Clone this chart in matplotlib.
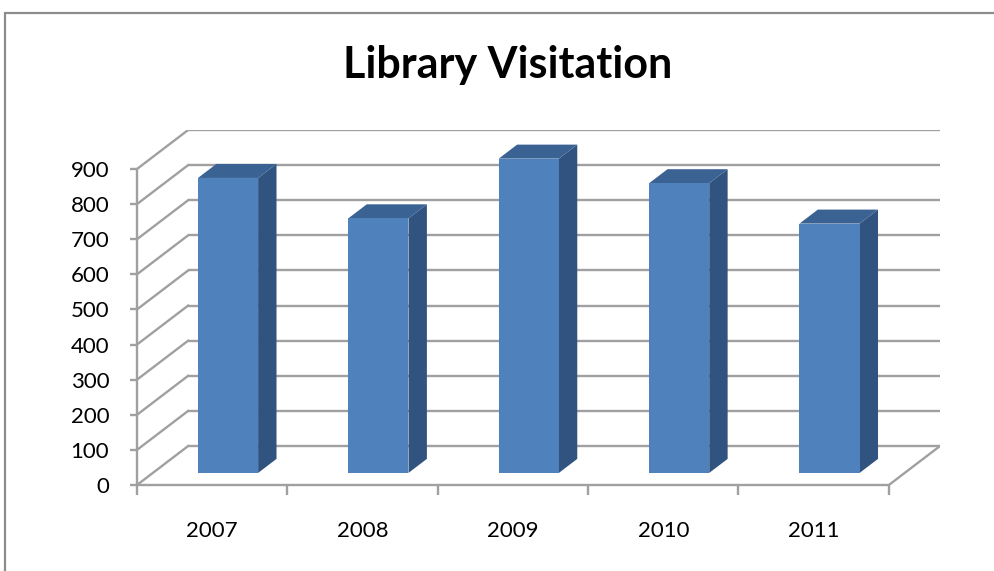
import matplotlib
matplotlib.use("Agg")
import matplotlib.pyplot as plt
from matplotlib.patches import Polygon, Rectangle

years = ["2007", "2008", "2009", "2010", "2011"]
visits = [840, 725, 895, 825, 710]
yticks = [0, 100, 200, 300, 400, 500, 600, 700, 800, 900]

plt.rcParams['font.family'] = ['Lato', 'DejaVu Sans']

# oblique depth offset of the back wall (x in categories, y in value units)
DX, DY = 0.34, 111
F0, F1 = 0.31, 0.67        # bar depth span (fraction of floor depth)
BW = 0.4                   # bar width (gap width 150%)

front_c = '#4F81BD'
side_c = '#31537F'
top_c = '#3A6394'
grid_c = '#A0A0A0'

W, H = 995, 571
fig = plt.figure(figsize=(W / 100, H / 100), dpi=100)

# plot area: front axis x 137..888 px, y 0 at 485 px; back wall up to 940/130 px
x_left, x_right = 137, 940
y_bot, y_top = 485, 130
ax = fig.add_axes([x_left / W, 1 - y_bot / H, (x_right - x_left) / W, (y_bot - y_top) / H])
ax.set_xlim(-0.5, len(years) - 0.5 + DX)
ax.set_ylim(0, yticks[-1] + DY)

n = len(years)
x0, x1 = -0.5, n - 0.5

# back wall gridlines and side wall diagonals
for v in yticks:
    ax.plot([x0 + DX, x1 + DX], [v + DY, v + DY], color=grid_c, lw=1.7, zorder=1,
            solid_capstyle='butt')
    ax.plot([x0, x0 + DX], [v, v + DY], color=grid_c, lw=1.7, zorder=1)
# right floor edge
ax.plot([x1, x1 + DX], [0, DY], color=grid_c, lw=1.7, zorder=1)

# 3D-looking columns
for i, v in enumerate(visits):
    xl = i - BW / 2 + F0 * DX
    xr = i + BW / 2 + F0 * DX
    yb = F0 * DY
    ddx = (F1 - F0) * DX
    ddy = (F1 - F0) * DY
    ax.add_patch(Polygon([(xr, yb), (xr + ddx, yb + ddy), (xr + ddx, yb + ddy + v), (xr, yb + v)],
                         closed=True, facecolor=side_c, edgecolor='none', zorder=3))
    ax.add_patch(Polygon([(xl, yb + v), (xr, yb + v), (xr + ddx, yb + ddy + v), (xl + ddx, yb + ddy + v)],
                         closed=True, facecolor=top_c, edgecolor='none', zorder=3))
    ax.add_patch(Rectangle((xl, yb), BW, v, facecolor=front_c, edgecolor='none', zorder=4))

# front axes
for s in ['top', 'right']:
    ax.spines[s].set_visible(False)
ax.spines['left'].set_bounds(0, yticks[-1])
ax.spines['bottom'].set_bounds(x0, x1)
for s in ['left', 'bottom']:
    ax.spines[s].set_color(grid_c)
    ax.spines[s].set_linewidth(1.7)

ax.set_yticks(yticks)
ax.set_yticklabels([str(t) for t in yticks], fontsize=16)
ax.tick_params(axis='y', length=5, width=1.7, color=grid_c, pad=15)

ax.set_xticks([k - 0.5 for k in range(n + 1)])
ax.set_xticklabels([])
ax.set_xticks(range(n), minor=True)
ax.set_xticklabels(years, minor=True, fontsize=16)
ax.tick_params(axis='x', which='major', length=7, width=1.7, color=grid_c)
ax.tick_params(axis='x', which='minor', length=0, pad=26)

ax.set_facecolor('none')

# chart border
fig.patches.append(Rectangle((5 / W, -0.1), 1.2, 1 - 13 / H + 0.1, transform=fig.transFigure,
                             facecolor='none', edgecolor='#8C8C8C', lw=1.6))

fig.text(508 / W, 1 - 65 / H, "Library Visitation", ha='center', va='center',
         fontsize=31, fontweight='bold')

plt.savefig('out.png', dpi=100)
